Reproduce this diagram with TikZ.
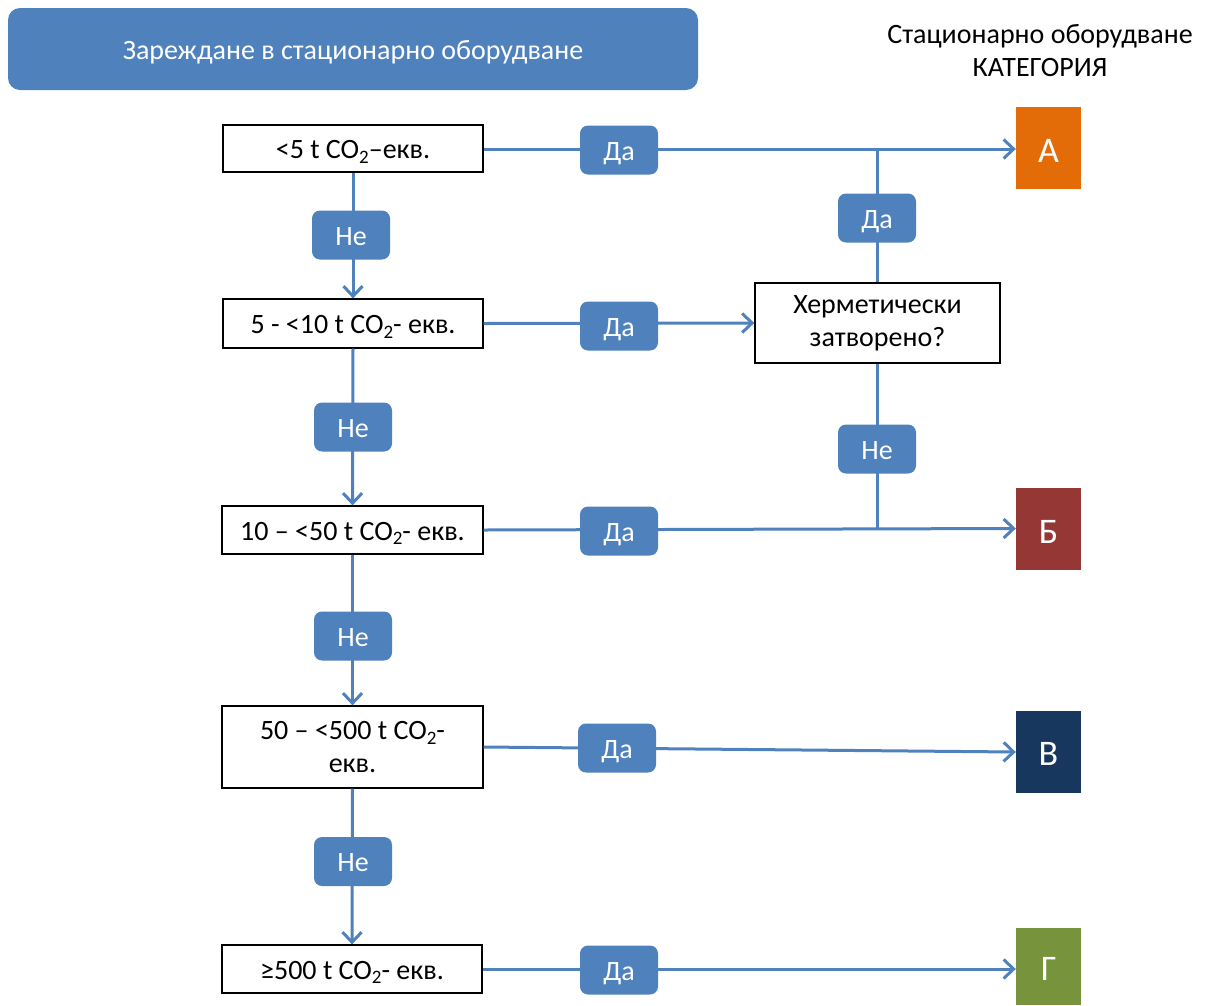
\documentclass[tikz,border=0pt]{standalone}
\usepackage{fontspec}
\setmainfont{Carlito}
\usetikzlibrary{arrows.meta}
\definecolor{mblue}{HTML}{4F81BD}
\definecolor{catA}{HTML}{E36C09}
\definecolor{catB}{HTML}{953735}
\definecolor{catC}{HTML}{17375E}
\definecolor{catD}{HTML}{77933C}
\tikzset{
  fnt/.style={font=\fontsize{28}{33}\selectfont},
  oneline/.style={text height=21pt, text depth=1pt},
  qbox/.style={draw=black, line width=1.3pt, fill=white, fnt, align=center, inner sep=0pt},
  lbl/.style={fill=mblue, rounded corners=8pt, text=white, fnt, oneline, minimum width=78pt, minimum height=49pt, inner sep=0pt},
  cat/.style={text=white, font=\fontsize{36}{40}\selectfont, text height=30pt, text depth=2pt, minimum width=65pt, minimum height=82pt, inner sep=0pt},
  conn/.style={draw=mblue, line width=3pt},
  arr/.style={conn, -{Straight Barb[length=10pt, width=19pt, line width=3pt]}},
}
\newcommand{\COtwo}{CO\raisebox{-0.35ex}{\fontsize{19}{19}\selectfont 2}}
\begin{document}
\begin{tikzpicture}[x=1pt,y=-1pt]
\useasboundingbox (0,0) rectangle (1205,1005);
% title
\node[fill=mblue, rounded corners=12pt, text=white, fnt, oneline, minimum width=690pt, minimum height=82pt, inner sep=0pt] (title) at (353,49) {Зареждане в стационарно оборудване};
\node[fnt, align=center] (cathead) at (1040,51) {Стационарно оборудване\\КАТЕГОРИЯ};
% question boxes
\node[qbox, oneline, minimum width=260pt, minimum height=47pt] (b1) at (353,148.5) {<5 t \COtwo–екв.};
\node[qbox, oneline, minimum width=260pt, minimum height=49pt] (b2) at (353,323.5) {5 - <10 t \COtwo- екв.};
\node[qbox, oneline, minimum width=261pt, minimum height=48pt] (b3) at (352.5,530) {10 – <50 t \COtwo- екв.};
\node[qbox, minimum width=261pt, minimum height=82pt] (b4) at (352.5,747) {50 – <500 t \COtwo-\\екв.};
\node[qbox, oneline, minimum width=260pt, minimum height=48pt] (b5) at (352,969) {≥500 t \COtwo- екв.};
\node[qbox, minimum width=245pt, minimum height=80pt] (herm) at (877.5,323) {Херметически\\затворено?};
% categories
\node[cat, fill=catA] (A) at (1048.5,148) {А};
\node[cat, fill=catB] (B) at (1048.5,529) {Б};
\node[cat, fill=catC] (C) at (1048.5,751.5) {В};
\node[cat, fill=catD, minimum height=77pt] (D) at (1048.5,966.5) {Г};
% junctions
\coordinate (jA) at (877.5,149);
\coordinate (jB) at (877.5,528.5);
% connectors
\draw[arr] (b1.east |- 0,149) -- (A.west |- 0,149);
\draw[conn] (herm.north) -- (jA);
\draw[arr] (b2.east) -- (herm.west);
\draw[conn] (herm.south) -- (jB);
\draw[arr] (b3.east) -- (B.west |- 0,528.5);
\draw[arr] (b4.east) -- (C.west |- 0,752);
\draw[arr] (b5.east) -- (D.west |- 0,969);
\draw[arr] (b1.south) -- (b2.north);
\draw[arr] (b2.south) -- (b3.north);
\draw[arr] (b3.south) -- (b4.north);
\draw[arr] (b4.south) -- (b5.north);
% labels
\node[lbl] (ne1) at (351,235) {Не};
\node[lbl] (ne2) at (353,427) {Не};
\node[lbl] (ne3) at (353,636) {Не};
\node[lbl] (ne4) at (353,861.5) {Не};
\node[lbl] (da1) at (619,150) {Да};
\node[lbl] (da2) at (619,326) {Да};
\node[lbl] (da3) at (619,531) {Да};
\node[lbl] (da4) at (617,748) {Да};
\node[lbl] (da5) at (619,970) {Да};
\node[lbl] (da6) at (877,218) {Да};
\node[lbl] (ne5) at (877,449) {Не};
\end{tikzpicture}
\end{document}
